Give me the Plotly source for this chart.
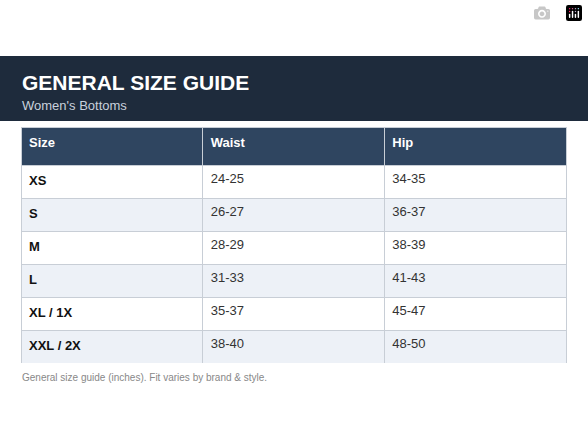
import plotly.graph_objects as go

headers = ["Size", "Waist", "Hip"]
sizes = ["XS", "S", "M", "L", "XL / 1X", "XXL / 2X"]
waist = ["24-25", "26-27", "28-29", "31-33", "35-37", "38-40"]
hip = ["34-35", "36-37", "38-39", "41-43", "45-47", "48-50"]

W, H = 588, 441
def py(p): return 1 - p / H

row_colors = ["#ffffff" if i % 2 == 0 else "#edf1f7" for i in range(len(sizes))]

fig = go.Figure(go.Table(
    domain=dict(x=[21 / W, 566 / W], y=[py(364), py(127)]),
    columnwidth=[1, 1, 1],
    header=dict(values=[f"<b>{h}</b>" for h in headers], fill_color="#2f4560",
                line_color="#c8ced6", font=dict(color="white", size=13, family="Arial"),
                align="left", height=38),
    cells=dict(values=[[f"<b>{s}</b>" for s in sizes], waist, hip],
               fill_color=[row_colors] * 3, line_color="#c8ced6",
               font=dict(color=["#111111", "#333333", "#333333"], size=13, family="Arial"),
               align="left", height=33),
))

fig.add_shape(type="rect", xref="paper", yref="paper", x0=0, x1=1, y0=py(121), y1=py(56),
              fillcolor="#1e2b3c", line_width=0, layer="below")
fig.add_annotation(x=20 / W, y=py(82), xref="paper", yref="paper", xanchor="left", yanchor="middle",
                   text="<b>GENERAL SIZE GUIDE</b>", showarrow=False,
                   font=dict(color="white", size=21, family="Arial"))
fig.add_annotation(x=20 / W, y=py(105), xref="paper", yref="paper", xanchor="left", yanchor="middle",
                   text="Women's Bottoms", showarrow=False,
                   font=dict(color="#c9d1dc", size=13, family="Arial"))
fig.add_annotation(x=20 / W, y=py(377), xref="paper", yref="paper", xanchor="left", yanchor="middle",
                   text="General size guide (inches). Fit varies by brand & style.", showarrow=False,
                   font=dict(color="#888888", size=10, family="Arial"))

fig.update_layout(width=W, height=H, margin=dict(l=0, r=0, t=0, b=0),
                  paper_bgcolor="white", plot_bgcolor="white")
fig.write_html("out.html", post_script="document.body.style.margin='0';document.body.style.overflow='hidden';")
